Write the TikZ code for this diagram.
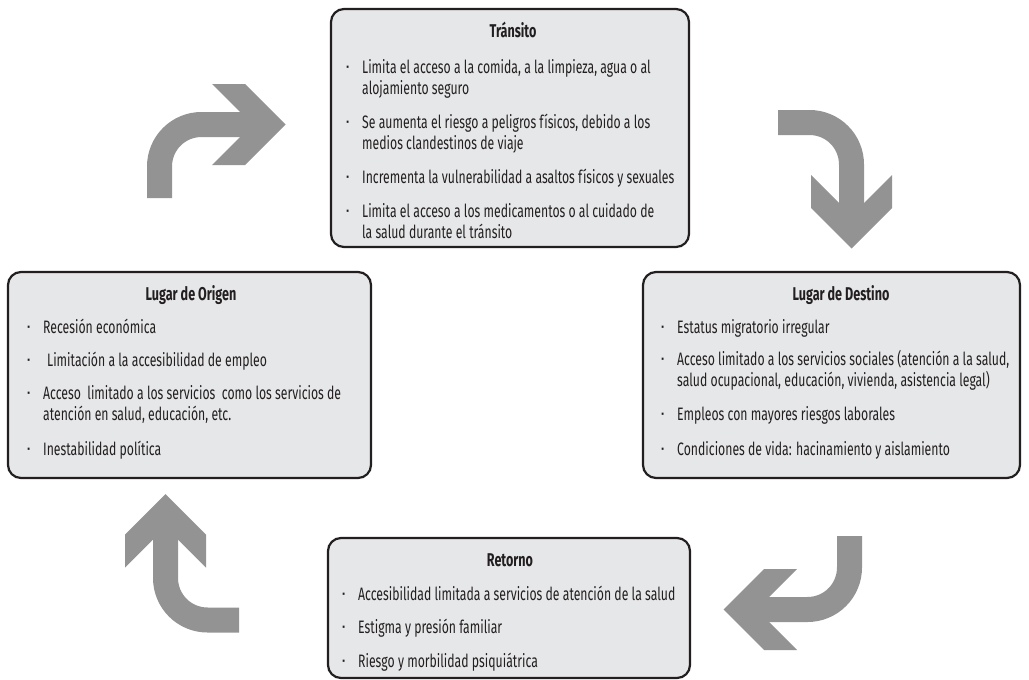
\documentclass[tikz,border=0pt]{standalone}
\usepackage{fontspec}
\setmainfont[FakeStretch=0.68]{Fira Sans}
\newfontfamily\dotfont{DejaVu Sans}
\definecolor{ink}{HTML}{231F20}
\definecolor{boxfill}{HTML}{E6E7E8}
\definecolor{arrowgray}{HTML}{939393}
\newcommand\mybullet{\llap{\makebox[0pt]{\dotfont ·}\hspace{14.5pt}}}
\tikzset{
  box/.style={draw=ink, fill=boxfill, line width=2.2pt, rounded corners=13pt, inner sep=0pt},
  txt/.style={anchor=base west, inner sep=0pt, text=ink, font=\fontsize{18}{21}\selectfont},
  ttl/.style={anchor=base, inner sep=0pt, text=ink, font=\fontsize{18.5}{21}\selectfont\bfseries},
  carrow/.pic={
    \draw[arrowgray, line width=25pt, rounded corners=42pt] (0,0) -- (0,-73.5) -- (100,-73.5);
    \fill[arrowgray] (52.5,-114) -- (85.5,-114) -- (126,-73.5) -- (85.5,-33) -- (52.5,-33) -- (93,-73.5) -- cycle;
  }
}
\begin{document}
\begin{tikzpicture}[x=1pt,y=-1pt]
\useasboundingbox (0,0) rectangle (1029,680);
% boxes
\node[box, minimum width=358pt, minimum height=238pt] (T) at (510,128) {};
\node[box, minimum width=363pt, minimum height=206pt] (O) at (189.5,375) {};
\node[box, minimum width=377pt, minimum height=206pt] (D) at (831.5,375) {};
\node[box, minimum width=362pt, minimum height=140pt] (R) at (509,608) {};
% Transito
\node[ttl] (Tt) at (513,37) {Tránsito};
\node[txt] (T1a) at (362,73) {\mybullet Limita el acceso a la comida, a la limpieza, agua o al};
\node[txt] (T1b) at (362,94) {alojamiento seguro};
\node[txt] (T2a) at (362,128) {\mybullet Se aumenta el riesgo a peligros físicos, debido a los};
\node[txt] (T2b) at (362,149) {medios clandestinos de viaje};
\node[txt] (T3a) at (362,183) {\mybullet Incrementa la vulnerabilidad a asaltos físicos y sexuales};
\node[txt] (T4a) at (362,217) {\mybullet Limita el acceso a los medicamentos o al cuidado de};
\node[txt] (T4b) at (362,238) {la salud durante el tránsito};
% Origen
\node[ttl] (Ot) at (191,300) {Lugar de Origen};
\node[txt] (O1a) at (43,333) {\mybullet Recesión económica};
\node[txt] (O2a) at (43,366) {\mybullet\hspace{4pt}Limitación a la accesibilidad de empleo};
\node[txt] (O3a) at (43,399) {\mybullet Acceso~ limitado a los servicios~ como los servicios de};
\node[txt] (O3b) at (43,420) {atención en salud, educación, etc.};
\node[txt] (O4a) at (43,455) {\mybullet Inestabilidad política};
% Destino
\node[ttl] (Dt) at (841,300) {Lugar de Destino};
\node[txt] (D1a) at (677,333) {\mybullet Estatus migratorio irregular};
\node[txt] (D2a) at (677,365) {\mybullet Acceso limitado a los servicios sociales (atención a la salud,};
\node[txt] (D2b) at (677,386) {salud ocupacional, educación, vivienda, asistencia legal)};
\node[txt] (D3a) at (677,420) {\mybullet Empleos con mayores riesgos laborales};
\node[txt] (D4a) at (677,455) {\mybullet Condiciones de vida: hacinamiento y aislamiento};
% Retorno
\node[ttl] (Rt) at (510,566) {Retorno};
\node[txt] (R1a) at (358,600) {\mybullet Accesibilidad limitada a servicios de atención de la salud};
\node[txt] (R2a) at (358,633) {\mybullet Estigma y presión familiar};
\node[txt] (R3a) at (358,667) {\mybullet Riesgo y morbilidad psiquiátrica};
% curved arrows
\pic at (159.5,198) {carrow};
\pic[rotate=-90] at (778,122.5) {carrow};
\pic[rotate=180] at (849.5,536) {carrow};
\pic[rotate=90] at (239,620) {carrow};
\end{tikzpicture}
\end{document}
